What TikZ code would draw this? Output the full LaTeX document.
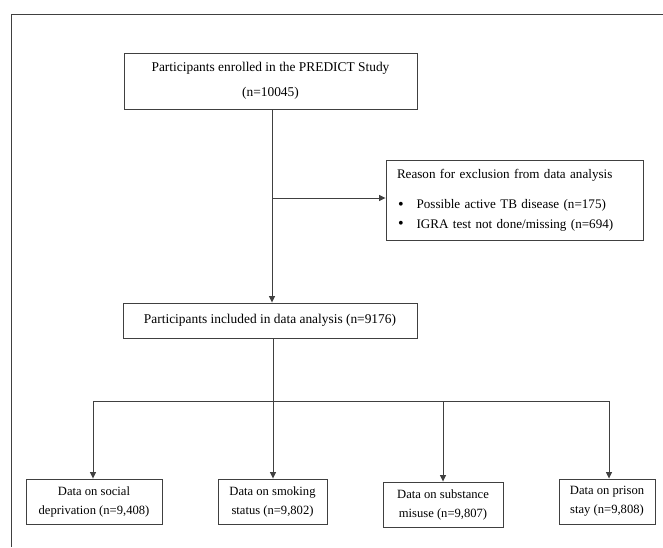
\documentclass[tikz,border=0pt]{standalone}
\usepackage{fontspec}
\setmainfont{Liberation Serif}
\usetikzlibrary{arrows.meta}
\definecolor{linec}{HTML}{404040}
\newcommand{\bigbul}{\raisebox{-0.5pt}{\fontsize{16}{16}\selectfont\textbullet}}
\tikzset{
  box/.style={draw=linec, line width=0.9pt, align=center, inner sep=2pt,
              font=\fontsize{13.4}{19}\selectfont},
  smallbox/.style={box, font=\fontsize{12.6}{19}\selectfont},
  conn/.style={draw=linec, line width=0.9pt},
  arr/.style={conn, -{Triangle[length=6.5pt,width=6pt]}}
}
\begin{document}
\begin{tikzpicture}[x=1pt,y=-1pt]
\useasboundingbox (0,0) rectangle (663,547);
\coordinate (fTL) at (11,14);
\coordinate (fTR) at (663,14);
\coordinate (fBL) at (11,547);
\draw[conn] (fTR) -- (fTL) -- (fBL);

\node[box, font=\fontsize{13.1}{19.5}\selectfont, minimum width=257, minimum height=80,
      inner xsep=11pt, text width=235pt, align=left] (excl) at (514.5,200)
  {Reason for exclusion from data analysis\\[11pt]
   \hspace*{1pt}\bigbul\hspace{13pt}Possible active TB disease (n=175)\\
   \hspace*{1pt}\bigbul\hspace{13pt}IGRA test not done/missing (n=694)};
\node[box, minimum width=293, minimum height=56] (enr) at (270.5,81)
  {Participants enrolled in the PREDICT Study\\[6pt](n=10045)};
\node[box, minimum width=294, minimum height=35] (inc) at (270,320.5)
  {Participants included in data analysis (n=9176)};
\node[smallbox, minimum width=136, minimum height=45] (soc) at (94,501.5)
  {Data on social\\deprivation (n=9,408)};
\node[smallbox, minimum width=109, minimum height=45] (smk) at (272.5,501.5)
  {Data on smoking\\status (n=9,802)};
\node[smallbox, minimum width=120, minimum height=45] (sub) at (443,504.5)
  {Data on substance\\misuse (n=9,807)};
\node[smallbox, minimum width=96, minimum height=45] (pri) at (607,501.5)
  {Data on prison\\stay (n=9,808)};

\coordinate (t1) at (272,109);
\coordinate (br) at (272,198);
\draw[arr] (t1) -- (t1 |- inc.north);
\draw[arr] (br) -- (excl.west |- br);

\coordinate (t2) at (273,338);
\coordinate (hy) at (273,401);
\draw[conn] (t2) -- (hy);
\coordinate (hl) at (93,401);
\coordinate (hm) at (443,401);
\coordinate (hr) at (609,401);
\draw[conn] (hl) -- (hr);
\draw[arr] (hl) -- (hl |- soc.north);
\draw[arr] (hy) -- (hy |- smk.north);
\draw[arr] (hm) -- (hm |- sub.north);
\draw[arr] (hr) -- (hr |- pri.north);
\end{tikzpicture}
\end{document}
